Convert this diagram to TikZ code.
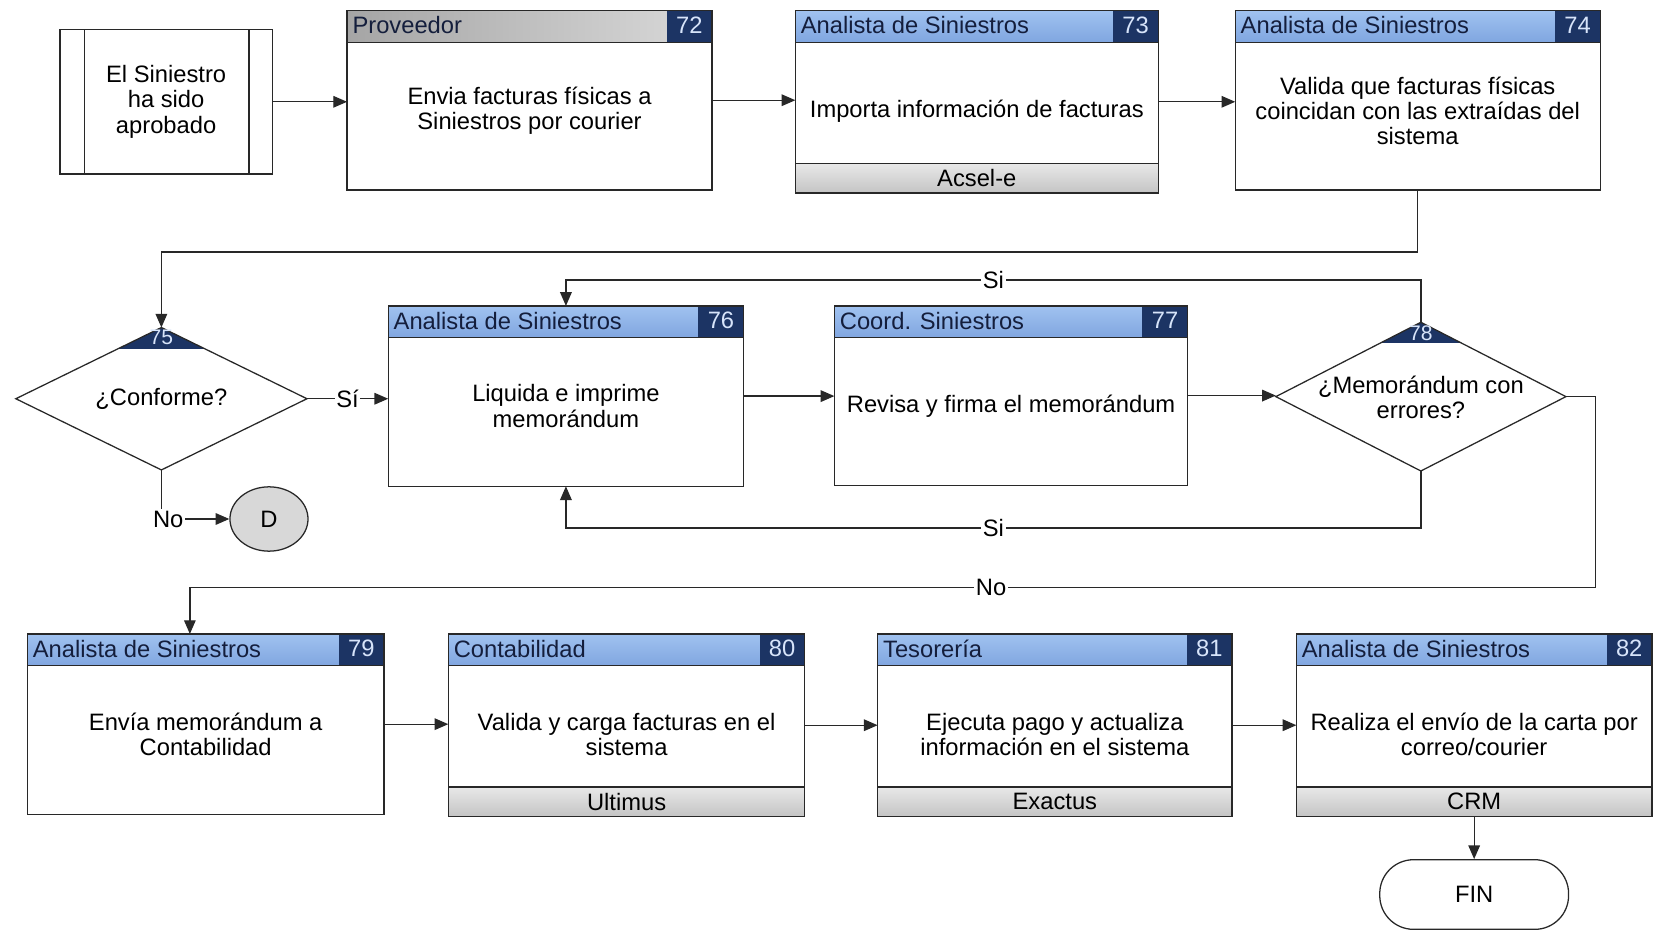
\documentclass[tikz,border=0pt]{standalone}
\usepackage{fontspec}
\setmainfont{Liberation Sans}
\usetikzlibrary{shapes.geometric,arrows.meta,calc}

\definecolor{headblueA}{RGB}{160,194,240}
\definecolor{headblueB}{RGB}{128,166,224}
\definecolor{headgrayA}{RGB}{165,165,165}
\definecolor{headgrayB}{RGB}{218,218,218}
\definecolor{numnavy}{RGB}{28,52,100}
\definecolor{numtext}{RGB}{215,228,250}
\definecolor{footA}{RGB}{232,232,232}
\definecolor{footB}{RGB}{196,196,196}
\definecolor{inkline}{RGB}{40,40,40}
\definecolor{headink}{RGB}{20,30,60}
\definecolor{circfill}{RGB}{216,216,216}

\tikzset{
  edge/.style={draw=inkline, line width=1.2pt},
  boxbase/.style={edge, fill=white, rectangle, inner sep=0pt, outer sep=0pt, anchor=north west},
  headblue/.style={top color=headblueA, bottom color=headblueB},
  headgray/.style={left color=headgrayA, right color=headgrayB},
  footfill/.style={top color=footA, bottom color=footB},
  txt/.style={font=\fontsize{22.5}{24}\selectfont, text=black, inner sep=0pt},
  headtxt/.style={txt, text=headink, anchor=west},
  numtxt/.style={txt, text=numtext},
  bodytxt/.style={txt, align=center},
  arr/.style={edge, -{Triangle[length=13pt,width=11pt]}},
  lbl/.style={txt, fill=white, inner sep=1.5pt},
  decision/.style={diamond, edge, fill=white, inner sep=0pt, outer sep=0pt,
    path picture={\fill[numnavy] (path picture bounding box.north west)
      rectangle ([yshift=-20pt]path picture bounding box.north east);}},
}

% process box: name, x, y, width, height, header style, header text, number, body text
\newcommand\procbox[9]{%
  \node[boxbase, minimum width=#4pt, minimum height=#5pt] (#1) at (#2,#3) {};
  \fill[#6] (#1.north west) rectangle ([yshift=-30pt]#1.north east);
  \fill[numnavy] ([xshift=-43pt]#1.north east) rectangle ([yshift=-30pt]#1.north east);
  \draw[edge] ([yshift=-30pt]#1.north west) -- ([yshift=-30pt]#1.north east);
  \node[headtxt] (#1-h) at ([xshift=5pt,yshift=-14pt]#1.north west) {#7};
  \node[numtxt] (#1-n) at ([xshift=-21.5pt,yshift=-14pt]#1.north east) {#8};
  \node[bodytxt] (#1-b) at ([yshift=-95pt]#1.north) {#9};
  \draw[edge] (#1.north west) rectangle (#1.south east);
}
% system strip at the bottom of a process box
\newcommand\sysstrip[2]{%
  \fill[footfill] ([yshift=28pt]#1.south west) rectangle (#1.south east);
  \draw[edge] ([yshift=28pt]#1.south west) -- ([yshift=28pt]#1.south east);
  \draw[edge] (#1.north west) rectangle (#1.south east);
  \node[txt] (#1-s) at ([yshift=14pt]#1.south) {#2};
}

\begin{document}
\begin{tikzpicture}[x=1pt, y=-1pt]
\useasboundingbox[fill=white] (0,0) rectangle (1568,884);

% start event
\node[boxbase, minimum width=201pt, minimum height=137pt] (start) at (57,28) {};
\draw[edge] ([xshift=23pt]start.north west) -- ([xshift=23pt]start.south west);
\draw[edge] ([xshift=-22pt]start.north east) -- ([xshift=-22pt]start.south east);
\node[bodytxt] (start-t) at (start.center) {El Siniestro\\ha sido\\aprobado};

% first row
\procbox{p72}{329}{10}{346}{170}{headgray}{Proveedor}{72}{Envia facturas físicas a\\Siniestros por courier}
\procbox{p73}{754}{10}{344}{173}{headblue}{Analista de Siniestros}{73}{Importa información de facturas}
\sysstrip{p73}{Acsel-e}
\procbox{p74}{1171}{10}{346}{170}{headblue}{Analista de Siniestros}{74}{Valida que facturas físicas\\coincidan con las extraídas del\\sistema}

% second row
\node[decision, minimum width=276pt, minimum height=135pt] (d75) at (153,378) {};
\node[bodytxt] (d75-t) at (d75.center) {¿Conforme?};
\node[numtxt, font=\fontsize{20}{22}\selectfont] (d75-n) at ([yshift=-9pt]d75.north) {75};

\node[ellipse, edge, fill=circfill, minimum width=74pt, minimum height=61pt, inner sep=0pt] (dD) at (255,492) {};
\node[txt] (dD-t) at (dD.center) {D};

\procbox{p76}{368}{290}{337}{171}{headblue}{Analista de Siniestros}{76}{Liquida e imprime\\memorándum}
\procbox{p77}{791}{290}{335}{170}{headblue}{Coord. Siniestros}{77}{Revisa y firma el memorándum}

\node[decision, minimum width=275pt, minimum height=141pt] (d78) at (1347,376) {};
\node[bodytxt] (d78-t) at ([yshift=-1pt]d78.center) {¿Memorándum con\\errores?};
\node[numtxt, font=\fontsize{20}{22}\selectfont] (d78-n) at ([yshift=-10pt]d78.north) {78};

% third row
\procbox{p79}{26}{601}{338}{171}{headblue}{Analista de Siniestros}{79}{Envía memorándum a\\Contabilidad}
\procbox{p80}{425}{601}{338}{173}{headblue}{Contabilidad}{80}{Valida y carga facturas en el\\sistema}
\sysstrip{p80}{Ultimus}
\procbox{p81}{832}{601}{336}{173}{headblue}{Tesorería}{81}{Ejecuta pago y actualiza\\información en el sistema}
\sysstrip{p81}{Exactus}
\procbox{p82}{1229}{601}{337}{173}{headblue}{Analista de Siniestros}{82}{Realiza el envío de la carta por\\correo/courier}
\sysstrip{p82}{CRM}

\node[edge, fill=white, rectangle, rounded corners=32pt, minimum width=179pt, minimum height=66pt, inner sep=0pt] (fin) at (1397.5,848) {};
\node[txt] (fin-t) at (fin.center) {FIN};

% connectors
\draw[arr] (start.east) -- (start.east -| p72.west);
\draw[arr] (p72.east) -- (p72.east -| p73.west);
\draw[arr] (p73.east) -- (p73.east -| p74.west);
\draw[arr] (p74.south) -- ++(0,59) -| (d75.north);
\draw[arr] (d75.east) -- node[lbl] {Sí} (d75.east -| p76.west);
\draw[arr] (d75.south) |- node[lbl, pos=0.55] {No} (dD.west);
\draw[arr] (p76.east) -- (p76.east -| p77.west);
\draw[arr] (p77.east) -- (p77.east -| d78.west);
\draw[arr] (d78.north) -- ++(0,-40) -| node[lbl, pos=0.25] {Si} (p76.north);
\draw[arr] (d78.south) -- ++(0,54) -| node[lbl, pos=0.25] {Si} (p76.south);
\coordinate (noTurn) at ($(d78.east)+(28,181)$);
\draw[arr] (d78.east) -| (noTurn) -- node[lbl, pos=0.43] {No} (noTurn -| 180,0) -- ($(p79.north)+(-15,0)$);
\draw[arr] (p79.east) -- (p79.east -| p80.west);
\draw[arr] (p80.east) -- (p80.east -| p81.west);
\draw[arr] (p81.east) -- (p81.east -| p82.west);
\draw[arr] (p82.south) -- (fin.north);
\end{tikzpicture}
\end{document}
